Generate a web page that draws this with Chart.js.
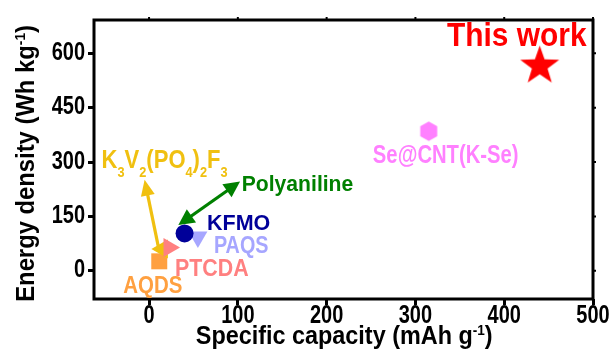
<!DOCTYPE html>
<html>
<head>
<meta charset="utf-8">
<script src="https://cdn.jsdelivr.net/npm/chart.js"></script>
<style>
  body { margin: 0; background: #fff; }
  #wrap { width: 613px; height: 351px; }
</style>
</head>
<body>
<div id="wrap"><canvas id="myChart" width="613" height="351"></canvas></div>
<script>
// ############################################ Data #############################################
const materials = ['This work', 'Se@CNT(K-Se)', 'KFMO', 'PAQS', 'PTCDA', 'K_3V_2(PO_4)_2F_3', 'AQDS'];
const capacity = [440, 315, 40, 55, 22.5, 15, 11.5];     // mAh g-1
const energy = [565, 385, 103, 93, 64, 60, 26];          // Wh kg-1

// arrows (capacity, energy) - start, end
const polyArrowX = [33, 102.5];
const polyArrowY = [126, 246];
const k3v2ArrowX = [10.5, -5];
const k3v2ArrowY = [66, 251];

const xTicks = [0, 100, 200, 300, 400, 500];
const yTicks = [0, 150, 300, 450, 600];

// ############################################ Styles #############################################
const FONT = '"Liberation Sans", Arial, Helvetica, sans-serif';
const colors = ['#ff0000', '#ff80ff', '#000099', '#a6a6ff', '#ff8080', '#f0c010', '#ffa040'];
const green = '#008000';

function starCanvas(R, color) {
    const s = Math.ceil(2 * R) + 2;
    const c = document.createElement('canvas');
    c.width = c.height = s;
    const g = c.getContext('2d');
    g.fillStyle = color;
    g.beginPath();
    for (let i = 0; i < 10; i++) {
        const r = i % 2 ? R * 0.4 : R;
        const a = -Math.PI / 2 + i * Math.PI / 5;
        g.lineTo(s / 2 + r * Math.cos(a), s / 2 + r * Math.sin(a));
    }
    g.closePath();
    g.fill();
    return c;
}

function hexCanvas(R, color) {
    const s = Math.ceil(2 * R) + 2;
    const c = document.createElement('canvas');
    c.width = c.height = s;
    const g = c.getContext('2d');
    g.fillStyle = color;
    g.beginPath();
    for (let i = 0; i < 6; i++) {
        const a = -Math.PI / 2 + i * Math.PI / 3;
        g.lineTo(s / 2 + R * Math.cos(a), s / 2 + R * Math.sin(a));
    }
    g.closePath();
    g.fill();
    return c;
}

const markers = [
    { style: starCanvas(20.5, colors[0]), r: 20, rot: 0 },
    { style: hexCanvas(9.8, colors[1]), r: 10, rot: 0 },
    { style: 'circle', r: 9, rot: 0 },
    { style: 'triangle', r: 11, rot: 180 },
    { style: 'triangle', r: 11, rot: 90 },
    { style: 'triangle', r: 11, rot: 270 },
    { style: 'rect', r: 11.3, rot: 0 }
];

// label layout: offsets in px from the anchor point, font size, x-squeeze, align
const labelLayout = [
    { dx: -23, dy: -20, size: 32.5, sx: 0.92, align: 'center' },
    { dx: 17, dy: 32, size: 25, sx: 0.81, align: 'center' },
    { dx: 22.5, dy: -3.3, size: 22.4, sx: 0.96, align: 'left' },
    { dx: 16, dy: 15.5, size: 23, sx: 0.86, align: 'left' },
    { dx: 6, dy: 28.5, size: 23, sx: 0.93, align: 'left' },
    { dx: -43, dy: -11.7, size: 25.6, sx: 0.86, align: 'left' },
    { dx: -36, dy: 32, size: 23, sx: 0.89, align: 'left' }
];

// parse "K_3" (subscript) and "^{-1}" (superscript)
function parseRich(str) {
    const segs = [];
    const re = /([_^])\{([^}]*)\}|([_^])(.)|([^_^]+)/g;
    let m;
    while ((m = re.exec(str)) !== null) {
        if (m[1]) segs.push({ t: m[2], sub: m[1] === '_', sup: m[1] === '^' });
        else if (m[3]) segs.push({ t: m[4], sub: m[3] === '_', sup: m[3] === '^' });
        else segs.push({ t: m[5] });
    }
    return segs;
}

function drawText(ctx, str, x, y, size, color, sx, align) {
    ctx.save();
    ctx.translate(x, y);
    ctx.scale(sx, 1);
    ctx.fillStyle = color;
    ctx.textBaseline = 'alphabetic';
    ctx.textAlign = 'left';
    const parts = parseRich(str).map(s => {
        const fs = (s.sub || s.sup) ? size * 0.58 : size;
        ctx.font = 'bold ' + fs + 'px ' + FONT;
        return { t: s.t, fs: fs, w: ctx.measureText(s.t).width, dy: s.sub ? size * 0.35 : (s.sup ? -size * 0.36 : 0) };
    });
    const total = parts.reduce((a, p) => a + p.w, 0);
    let cx = align === 'center' ? -total / 2 : (align === 'right' ? -total : 0);
    parts.forEach(p => {
        ctx.font = 'bold ' + p.fs + 'px ' + FONT;
        ctx.fillText(p.t, cx, p.dy);
        cx += p.w;
    });
    ctx.restore();
}

function drawArrow(ctx, x1, y1, x2, y2, color, bothHeads, len, half) {
    const ang = Math.atan2(y2 - y1, x2 - x1);
    const ux = Math.cos(ang), uy = Math.sin(ang);
    ctx.save();
    ctx.strokeStyle = color;
    ctx.fillStyle = color;
    ctx.lineWidth = 3.2;
    ctx.beginPath();
    ctx.moveTo(bothHeads ? x1 + ux * len * 0.8 : x1, bothHeads ? y1 + uy * len * 0.8 : y1);
    ctx.lineTo(x2 - ux * len * 0.8, y2 - uy * len * 0.8);
    ctx.stroke();
    const head = (tx, ty, dx, dy) => {
        ctx.beginPath();
        ctx.moveTo(tx, ty);
        ctx.lineTo(tx - dx * len - dy * half, ty - dy * len + dx * half);
        ctx.lineTo(tx - dx * len + dy * half, ty - dy * len - dx * half);
        ctx.closePath();
        ctx.fill();
    };
    head(x2, y2, ux, uy);
    if (bothHeads) head(x1, y1, -ux, -uy);
    ctx.restore();
}

// ############################################ Plugins #############################################
const arrowPlugin = {
    id: 'arrows',
    beforeDatasetsDraw(chart) {
        const { ctx, scales: { x, y } } = chart;
        drawArrow(ctx, x.getPixelForValue(polyArrowX[0]), y.getPixelForValue(polyArrowY[0]),
            x.getPixelForValue(polyArrowX[1]), y.getPixelForValue(polyArrowY[1]), green, true, 16, 8);
        drawArrow(ctx, x.getPixelForValue(k3v2ArrowX[0]), y.getPixelForValue(k3v2ArrowY[0]),
            x.getPixelForValue(k3v2ArrowX[1]), y.getPixelForValue(k3v2ArrowY[1]), colors[5], false, 16, 7);
    }
};

const decorPlugin = {
    id: 'decor',
    afterDraw(chart) {
        const { ctx, chartArea: a, scales: { x, y } } = chart;
        // frame + mirror ticks
        ctx.save();
        ctx.strokeStyle = '#000';
        ctx.lineWidth = 3;
        ctx.strokeRect(a.left, a.top, a.right - a.left, a.bottom - a.top);
        ctx.lineWidth = 2;
        ctx.beginPath();
        xTicks.forEach(v => { const px = x.getPixelForValue(v); ctx.moveTo(px, a.top); ctx.lineTo(px, a.top - 3); });
        yTicks.forEach(v => { const py = y.getPixelForValue(v); ctx.moveTo(a.right, py); ctx.lineTo(a.right + 3, py); });
        ctx.stroke();
        ctx.restore();

        // tick labels
        yTicks.forEach(v => drawText(ctx, String(v), a.left - 9, y.getPixelForValue(v) + 6.7, 25, '#000', 0.8, 'right'));
        xTicks.forEach(v => drawText(ctx, String(v), x.getPixelForValue(v), a.bottom + 24.3, 25, '#000', 0.8, 'center'));

        // axis titles
        drawText(ctx, 'Specific capacity (mAh g^{-1})', 344.2, 344, 26, '#000', 0.9, 'center');
        ctx.save();
        ctx.translate(34.3, 163.4);
        ctx.rotate(-Math.PI / 2);
        drawText(ctx, 'Energy density (Wh kg^{-1})', 0, 0, 25.6, '#000', 0.93, 'center');
        ctx.restore();

        // point labels
        materials.forEach((name, i) => {
            const L = labelLayout[i];
            let ax = x.getPixelForValue(capacity[i]);
            let ay = y.getPixelForValue(energy[i]);
            if (i === 5) { ax = x.getPixelForValue(k3v2ArrowX[1]); ay = y.getPixelForValue(k3v2ArrowY[1]); }
            drawText(ctx, name, ax + L.dx, ay + L.dy, L.size, colors[i], L.sx, L.align);
        });
        drawText(ctx, 'Polyaniline', x.getPixelForValue(polyArrowX[1]) + 1.7, y.getPixelForValue(polyArrowY[1]) + 9, 22, green, 0.96, 'left');
    }
};

// ############################################ Chart #############################################
function createScatterChart() {
    const ctx = document.getElementById('myChart').getContext('2d');
    const datasets = materials.map((name, i) => ({
        label: name,
        data: [{ x: capacity[i], y: energy[i] }],
        pointStyle: markers[i].style,
        pointRadius: markers[i].r,
        pointRotation: markers[i].rot,
        backgroundColor: colors[i],
        borderColor: colors[i],
        borderWidth: 0,
        clip: false
    }));

    new Chart(ctx, {
        type: 'scatter',
        data: { datasets: datasets },
        plugins: [arrowPlugin, decorPlugin],
        options: {
            responsive: false,
            animation: false,
            devicePixelRatio: 1,
            layout: { padding: { left: 0, right: 20, top: 20, bottom: 0 } },
            plugins: { legend: { display: false }, tooltip: { enabled: false } },
            scales: {
                x: {
                    type: 'linear',
                    min: -62,
                    max: 500,
                    afterBuildTicks: axis => { axis.ticks = xTicks.map(v => ({ value: v })); },
                    afterFit: axis => { axis.height = 52; },
                    ticks: { display: false },
                    border: { display: false },
                    grid: { drawOnChartArea: false, drawTicks: true, tickLength: 6, tickWidth: 3, tickColor: '#000' }
                },
                y: {
                    type: 'linear',
                    min: -78,
                    max: 692,
                    afterBuildTicks: axis => { axis.ticks = yTicks.map(v => ({ value: v })); },
                    afterFit: axis => { axis.width = 94; },
                    ticks: { display: false },
                    border: { display: false },
                    grid: { drawOnChartArea: false, drawTicks: true, tickLength: 6, tickWidth: 3, tickColor: '#000' }
                }
            }
        }
    });
}

createScatterChart();
</script>
</body>
</html>
